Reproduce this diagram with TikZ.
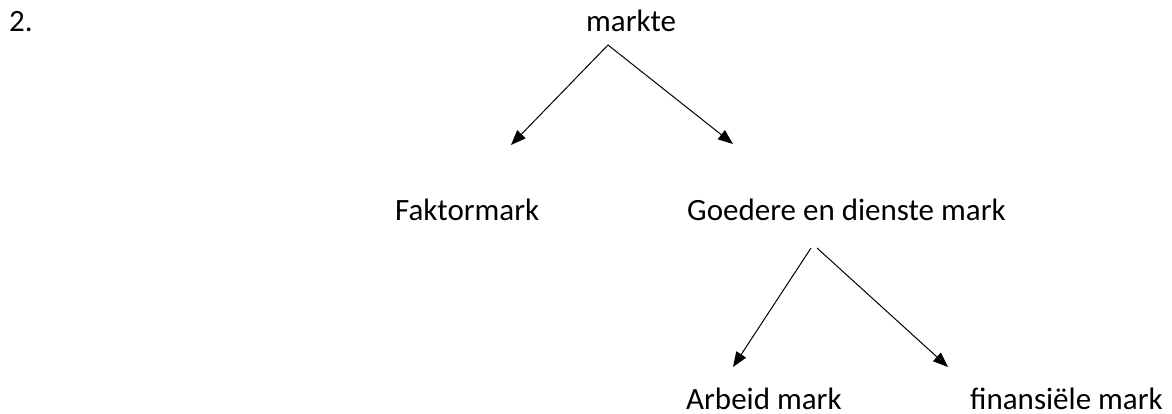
\documentclass[tikz,border=0pt]{standalone}
\usepackage{fontspec}
\setmainfont{Carlito}
\usetikzlibrary{arrows.meta}
\begin{document}
\begin{tikzpicture}[x=1pt,y=-1pt,
  lbl/.style={anchor=base west,inner sep=0pt,font=\fontsize{31}{37}\selectfont},
  arr/.style={line width=1pt,-{Triangle[length=15pt,width=11.5pt]}}]
\useasboundingbox (0,0) rectangle (1172,414);
\node[lbl] (num) at (9,32) {2.};
\node[lbl] (markte) at (586,32) {markte};
\node[lbl] (faktor) at (395,221) {Faktormark};
\node[lbl] (goedere) at (687,221) {Goedere en dienste mark};
\node[lbl,text depth=0pt] (arbeid) at (686,409) {Arbeid mark};
\node[lbl,text depth=0pt] (finans) at (970,409) {finansiële mark};
\coordinate (mtop) at (608,45);
\coordinate (mleft) at (511,145);
\coordinate (mright) at (733,144);
\coordinate (gtopl) at (811,248);
\coordinate (gtopr) at (817,248);
\coordinate (gleft) at (733,367);
\coordinate (gright) at (948,367);
\draw[arr] (mtop) -- (mleft);
\draw[arr] (mtop) -- (mright);
\draw[arr] (gtopl) -- (gleft);
\draw[arr] (gtopr) -- (gright);
\end{tikzpicture}
\end{document}
